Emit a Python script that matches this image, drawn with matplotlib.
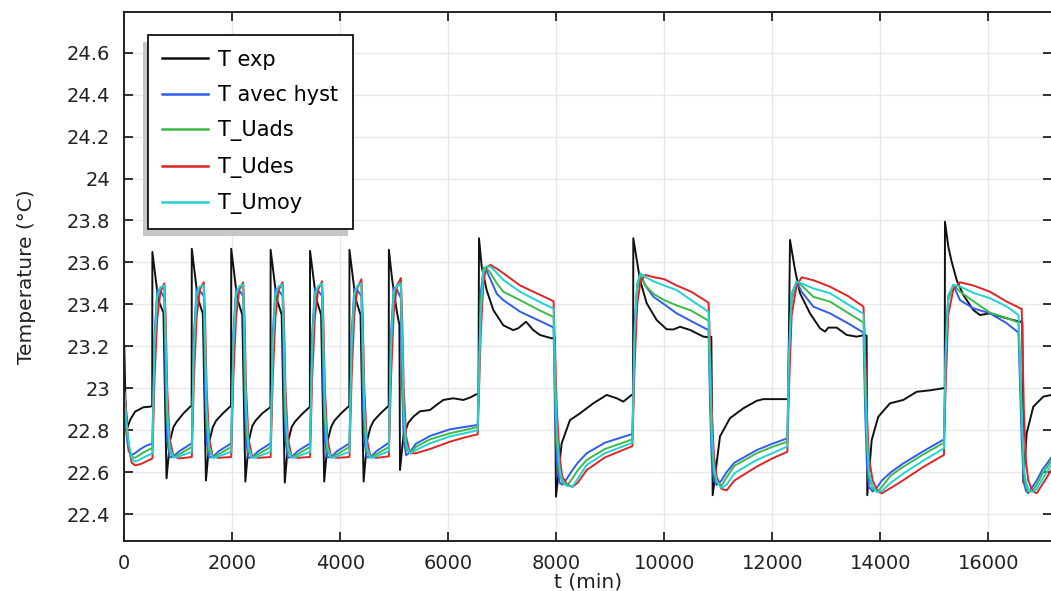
import matplotlib
matplotlib.use("Agg")
import matplotlib.pyplot as plt
from matplotlib.ticker import FuncFormatter, MultipleLocator

# measured temperature (T exp)
t_exp = [
    0, 20, 56, 106, 198, 352, 476, 517,
    520, 630, 725, 782, 847, 910, 970, 1095, 1220, 1247,
    1250, 1360, 1455, 1512, 1577, 1640, 1700, 1825, 1950, 1977,
    1980, 2090, 2185, 2242, 2307, 2370, 2430, 2555, 2680, 2707,
    2710, 2820, 2915, 2972, 3037, 3100, 3160, 3285, 3410, 3437,
    3440, 3550, 3645, 3702, 3767, 3830, 3890, 4015, 4140, 4167,
    4170, 4280, 4375, 4432, 4497, 4560, 4620, 4745, 4870, 4897,
    4900, 4960, 5045, 5095, 5106,
    5168, 5260, 5352, 5476, 5661, 5780, 5908, 6093, 6278, 6400, 6495, 6560,
    6569, 6619, 6711, 6834, 7019, 7204, 7297, 7440, 7575, 7698, 7915, 7970,
    7995, 8100, 8254, 8439, 8686, 8934, 9120, 9242, 9397, 9422,
    9427, 9551, 9675, 9860, 10045, 10170, 10292, 10477, 10724, 10816, 10872,
    10897, 11032, 11217, 11464, 11712, 11835, 12295,
    12329, 12422, 12514, 12699, 12884, 12977, 13039, 13194, 13379, 13564, 13718, 13748,
    13760, 13842, 13964, 14181, 14427, 14675, 14922, 15168, 15195,
    15199, 15261, 15323, 15416, 15538, 15724, 15848, 16033, 16279, 16465, 16601, 16632,
    16650, 16712, 16835, 17020, 17170,
]
T_exp = [
    23.20, 22.95, 22.81, 22.848, 22.888, 22.909, 22.912, 22.915,
    23.65, 23.42, 23.36, 22.57, 22.75, 22.815, 22.84, 22.88, 22.912, 22.915,
    23.665, 23.43, 23.355, 22.56, 22.75, 22.815, 22.845, 22.88, 22.91, 22.915,
    23.665, 23.43, 23.35, 22.555, 22.75, 22.82, 22.845, 22.88, 22.905, 22.91,
    23.66, 23.43, 23.35, 22.55, 22.75, 22.815, 22.84, 22.875, 22.905, 22.91,
    23.655, 23.43, 23.35, 22.555, 22.75, 22.815, 22.845, 22.88, 22.91, 22.915,
    23.66, 23.43, 23.35, 22.555, 22.75, 22.815, 22.845, 22.88, 22.91, 22.915,
    23.66, 23.52, 23.37, 23.30, 22.61,
    22.77, 22.835, 22.864, 22.89, 22.896, 22.92, 22.944, 22.952, 22.944, 22.955, 22.968, 22.975,
    23.715, 23.58, 23.468, 23.373, 23.30, 23.277, 23.286, 23.317, 23.277, 23.254, 23.238, 23.24,
    22.483, 22.737, 22.848, 22.88, 22.928, 22.968, 22.952, 22.936, 22.968, 22.97,
    23.715, 23.516, 23.405, 23.325, 23.281, 23.28, 23.293, 23.278, 23.246, 23.243, 23.245,
    22.49, 22.77, 22.857, 22.904, 22.94, 22.948, 22.948,
    23.707, 23.564, 23.453, 23.357, 23.286, 23.27, 23.289, 23.289, 23.254, 23.246, 23.254, 23.25,
    22.49, 22.753, 22.864, 22.928, 22.944, 22.983, 22.99, 23.0, 23.0,
    23.794, 23.675, 23.603, 23.516, 23.445, 23.373, 23.349, 23.357, 23.338, 23.325, 23.317, 23.315,
    22.55, 22.785, 22.912, 22.96, 22.968,
]

# simulated temperatures, shared time grid
t_sim = [
    0, 40, 80, 137, 200, 300, 400,
    520, 560, 610, 670, 742, 765, 795, 840, 910, 1020,
    1250, 1290, 1340, 1400, 1472, 1495, 1525, 1570, 1640, 1750,
    1980, 2020, 2070, 2130, 2202, 2225, 2255, 2300, 2370, 2480,
    2710, 2750, 2800, 2860, 2932, 2955, 2985, 3030, 3100, 3210,
    3440, 3480, 3530, 3590, 3662, 3685, 3715, 3760, 3830, 3940,
    4170, 4210, 4260, 4320, 4392, 4415, 4445, 4490, 4560, 4670,
    4900, 4940, 4990, 5050, 5122,
    5145, 5175, 5220, 5290, 5400, 5660, 6030, 6300, 6545,
    6600, 6650, 6700, 6780, 6900, 7020, 7330, 7700, 7950,
    7975, 8010, 8060, 8110, 8200, 8300, 8400, 8564, 8900, 9410,
    9450, 9500, 9560, 9650, 9800, 10000, 10230, 10500, 10820,
    10850, 10880, 10920, 10970, 11060, 11156, 11300, 11712, 12000, 12280,
    12310, 12360, 12452, 12545, 12760, 13070, 13400, 13690,
    13720, 13750, 13790, 13860, 13950, 14030, 14200, 14430, 14800, 15180,
    15210, 15260, 15353, 15478, 15724, 16033, 16342, 16560,
    16590, 16620, 16660, 16700, 16742, 16820, 16897, 17000, 17170,
]
T_hyst = [
    22.98, 22.78, 22.70, 22.682, 22.69, 22.71, 22.725,
    22.737, 23.25, 23.47, 23.465, 23.43, 23.0, 22.75, 22.67, 22.675, 22.70,
    22.737, 23.26, 23.475, 23.465, 23.44, 23.0, 22.75, 22.67, 22.672, 22.70,
    22.737, 23.26, 23.475, 23.465, 23.44, 23.0, 22.75, 22.668, 22.672, 22.70,
    22.737, 23.26, 23.475, 23.465, 23.44, 23.0, 22.75, 22.668, 22.672, 22.70,
    22.737, 23.26, 23.475, 23.465, 23.44, 23.0, 22.75, 22.67, 22.672, 22.70,
    22.737, 23.26, 23.475, 23.465, 23.44, 23.0, 22.75, 22.67, 22.672, 22.70,
    22.74, 23.26, 23.48, 23.47, 23.43,
    23.0, 22.75, 22.68, 22.695, 22.735, 22.772, 22.804, 22.815, 22.825,
    23.45, 23.56, 23.565, 23.52, 23.45, 23.42, 23.365, 23.32, 23.29,
    22.9, 22.65, 22.55, 22.54, 22.57, 22.61, 22.645, 22.69, 22.74, 22.782,
    23.3, 23.5, 23.54, 23.49, 23.436, 23.40, 23.357, 23.32, 23.277,
    22.9, 22.65, 22.56, 22.538, 22.56, 22.60, 22.645, 22.705, 22.735, 22.761,
    23.2, 23.45, 23.508, 23.46, 23.389, 23.357, 23.31, 23.265,
    22.9, 22.65, 22.53, 22.507, 22.53, 22.56, 22.60, 22.642, 22.70, 22.756,
    23.2, 23.44, 23.49, 23.42, 23.381, 23.357, 23.31, 23.265,
    23.0, 22.75, 22.55, 22.51, 22.499, 22.53, 22.56, 22.61, 22.67,
]
T_uads = [
    22.98, 22.82, 22.72, 22.672, 22.668, 22.685, 22.70,
    22.715, 23.20, 23.43, 23.48, 23.49, 23.2, 22.85, 22.70, 22.67, 22.685,
    22.72, 23.20, 23.44, 23.485, 23.49, 23.2, 22.85, 22.70, 22.67, 22.685,
    22.72, 23.20, 23.44, 23.485, 23.49, 23.2, 22.85, 22.70, 22.67, 22.685,
    22.72, 23.20, 23.44, 23.485, 23.495, 23.2, 22.85, 22.70, 22.67, 22.685,
    22.72, 23.20, 23.44, 23.485, 23.495, 23.2, 22.85, 22.70, 22.67, 22.685,
    22.72, 23.20, 23.44, 23.485, 23.50, 23.2, 22.85, 22.70, 22.67, 22.685,
    22.72, 23.20, 23.45, 23.49, 23.49,
    23.2, 22.85, 22.71, 22.69, 22.72, 22.756, 22.785, 22.80, 22.815,
    23.40, 23.575, 23.575, 23.55, 23.50, 23.46, 23.42, 23.37, 23.34,
    23.0, 22.75, 22.6, 22.55, 22.535, 22.57, 22.61, 22.658, 22.71, 22.756,
    23.2, 23.47, 23.54, 23.49, 23.45, 23.42, 23.395, 23.37, 23.322,
    23.0, 22.75, 22.6, 22.55, 22.535, 22.575, 22.63, 22.69, 22.72, 22.745,
    23.1, 23.42, 23.508, 23.49, 23.436, 23.413, 23.36, 23.313,
    23.0, 22.75, 22.58, 22.52, 22.505, 22.53, 22.585, 22.626, 22.685, 22.74,
    23.1, 23.42, 23.492, 23.46, 23.415, 23.36, 23.335, 23.313,
    23.1, 22.85, 22.6, 22.53, 22.505, 22.51, 22.54, 22.59, 22.655,
]
T_udes = [
    22.98, 22.86, 22.72, 22.645, 22.632, 22.638, 22.65,
    22.665, 23.05, 23.33, 23.46, 23.50, 23.35, 23.0, 22.76, 22.675, 22.665,
    22.672, 23.05, 23.34, 23.47, 23.505, 23.35, 23.0, 22.76, 22.672, 22.668,
    22.672, 23.05, 23.34, 23.47, 23.505, 23.35, 23.0, 22.76, 22.672, 22.668,
    22.672, 23.05, 23.34, 23.47, 23.505, 23.35, 23.0, 22.76, 22.672, 22.668,
    22.672, 23.05, 23.34, 23.47, 23.51, 23.35, 23.0, 22.76, 22.672, 22.668,
    22.672, 23.05, 23.35, 23.48, 23.52, 23.35, 23.0, 22.76, 22.672, 22.668,
    22.675, 23.05, 23.36, 23.49, 23.525,
    23.35, 23.0, 22.77, 22.69, 22.69, 22.71, 22.745, 22.765, 22.78,
    23.25, 23.50, 23.575, 23.588, 23.57, 23.548, 23.49, 23.445, 23.415,
    23.2, 22.9, 22.68, 22.58, 22.54, 22.53, 22.55, 22.61, 22.67, 22.724,
    23.1, 23.4, 23.51, 23.54, 23.53, 23.52, 23.49, 23.46, 23.408,
    23.2, 22.9, 22.68, 22.58, 22.52, 22.513, 22.56, 22.626, 22.665, 22.697,
    23.0, 23.35, 23.49, 23.529, 23.515, 23.484, 23.44, 23.389,
    23.2, 22.9, 22.67, 22.56, 22.51, 22.499, 22.525, 22.562, 22.625, 22.682,
    23.0, 23.35, 23.47, 23.505, 23.49, 23.46, 23.413, 23.386,
    23.38, 23.38, 22.9, 22.65, 22.56, 22.51, 22.499, 22.54, 22.61,
]
T_umoy = [
    22.98, 22.84, 22.74, 22.665, 22.65, 22.662, 22.675,
    22.69, 23.20, 23.44, 23.48, 23.49, 23.25, 22.9, 22.72, 22.67, 22.675,
    22.697, 23.20, 23.45, 23.485, 23.49, 23.25, 22.9, 22.72, 22.668, 22.675,
    22.697, 23.20, 23.45, 23.485, 23.495, 23.25, 22.9, 22.72, 22.668, 22.675,
    22.697, 23.20, 23.45, 23.485, 23.495, 23.25, 22.9, 22.72, 22.668, 22.675,
    22.697, 23.20, 23.45, 23.485, 23.50, 23.25, 22.9, 22.72, 22.668, 22.675,
    22.697, 23.20, 23.45, 23.49, 23.50, 23.25, 22.9, 22.72, 22.668, 22.675,
    22.70, 23.20, 23.46, 23.49, 23.50,
    23.25, 22.9, 22.73, 22.69, 22.705, 22.737, 22.77, 22.785, 22.80,
    23.35, 23.55, 23.58, 23.58, 23.55, 23.516, 23.46, 23.41, 23.38,
    23.1, 22.8, 22.62, 22.56, 22.535, 22.53, 22.57, 22.634, 22.69, 22.74,
    23.25, 23.5, 23.548, 23.53, 23.51, 23.49, 23.468, 23.42, 23.365,
    23.1, 22.8, 22.62, 22.56, 22.525, 22.54, 22.595, 22.658, 22.69, 22.722,
    23.15, 23.45, 23.508, 23.50, 23.476, 23.453, 23.40, 23.355,
    23.1, 22.8, 22.6, 22.53, 22.505, 22.51, 22.55, 22.594, 22.655, 22.713,
    23.15, 23.44, 23.492, 23.485, 23.455, 23.429, 23.39, 23.349,
    23.15, 22.9, 22.62, 22.55, 22.52, 22.505, 22.52, 22.565, 22.635,
]

labels = ["T exp", "T avec hyst", "T_Uads", "T_Udes", "T_Umoy"]
colors = ["#111111", "#2f5cf0", "#3cba48", "#e02424", "#22d2d2"]

fig = plt.figure(figsize=(10.51, 5.91), dpi=100)
ax = fig.add_axes([124.3 / 1051, 49.7 / 591, 927.2 / 1051, 529.6 / 591])

ax.plot(t_exp, T_exp, color=colors[0], lw=1.4, label=labels[0])
for vals, lab, col in zip([T_hyst, T_uads, T_udes, T_umoy], labels[1:], colors[1:]):
    ax.plot(t_sim, vals, color=col, lw=1.4, label=lab)

ax.set_xlim(0, 17172)
ax.set_ylim(22.27, 24.7955)
ax.xaxis.set_major_locator(MultipleLocator(2000))
ax.yaxis.set_major_locator(MultipleLocator(0.2))
ax.yaxis.set_major_formatter(FuncFormatter(lambda v, p: f"{v:.1f}".rstrip("0").rstrip(".")))

ax.grid(True, color="#e8e8e8", lw=1.0)
ax.set_axisbelow(True)
ax.tick_params(direction="in", length=6.5, width=1.3, labelsize=14,
               top=True, right=True, colors="#222222", labelcolor="#222222")
ax.tick_params(axis="x", pad=9)
ax.tick_params(axis="y", pad=10)
for s in ax.spines.values():
    s.set_linewidth(1.4)
    s.set_color("#222222")

ax.set_xlabel("t (min)", fontsize=14.5, labelpad=0, color="#222222")
ax.set_ylabel("Temperature (°C)", fontsize=14.5, labelpad=22, color="#222222")

leg = ax.legend(loc="upper left", fontsize=15, frameon=True, fancybox=False,
                shadow={"ox": -3.5, "oy": -5, "facecolor": "#c6c6c6",
                        "edgecolor": "none", "alpha": 1.0},
                handlelength=2.2, handletextpad=0.5, labelspacing=0.74,
                borderpad=0.7, borderaxespad=1.12, framealpha=1.0)
leg.get_frame().set_edgecolor("#111111")
leg.get_frame().set_linewidth(1.3)
for line in leg.get_lines():
    line.set_linewidth(1.8)

fig.savefig("out.png", dpi=100)
